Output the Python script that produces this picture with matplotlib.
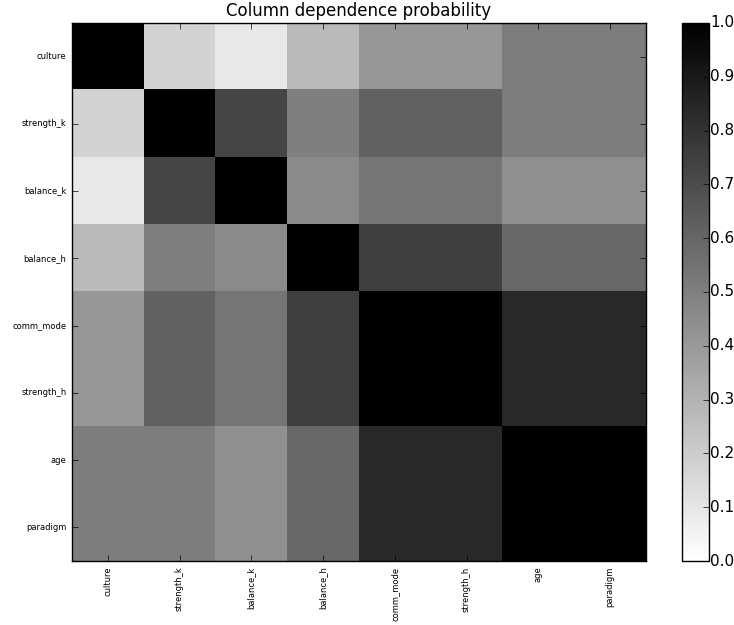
import matplotlib
matplotlib.use("Agg")
import matplotlib.pyplot as plt
import numpy as np

plt.style.use('classic')

labels = ['culture', 'strength_k', 'balance_k', 'balance_h',
          'comm_mode', 'strength_h', 'age', 'paradigm']

# dependence probabilities
row_culture = [1.00, 0.17, 0.09, 0.27, 0.41, 0.41, 0.51, 0.51]
row_strength_k = [0.17, 1.00, 0.73, 0.50, 0.62, 0.62, 0.51, 0.51]
row_balance_k = [0.09, 0.73, 1.00, 0.46, 0.54, 0.54, 0.44, 0.44]
row_balance_h = [0.27, 0.50, 0.46, 1.00, 0.75, 0.75, 0.59, 0.59]
row_comm_mode = [0.41, 0.62, 0.54, 0.75, 1.00, 1.00, 0.84, 0.84]
row_strength_h = [0.41, 0.62, 0.54, 0.75, 1.00, 1.00, 0.84, 0.84]
row_age = [0.51, 0.51, 0.44, 0.59, 0.84, 0.84, 1.00, 1.00]
row_paradigm = [0.51, 0.51, 0.44, 0.59, 0.84, 0.84, 1.00, 1.00]

z = np.array([row_culture, row_strength_k, row_balance_k, row_balance_h,
              row_comm_mode, row_strength_h, row_age, row_paradigm])

fig = plt.figure(figsize=(7.34, 6.25), dpi=100, facecolor='white')
ax = fig.add_axes([0.098, 0.1024, 0.782, 0.861])
cax = fig.add_axes([0.929, 0.1024, 0.0368, 0.861])

im = ax.imshow(z, cmap='gray_r', vmin=0, vmax=1, interpolation='nearest',
               aspect='auto')
ax.set_xticks(range(len(labels)))
ax.set_yticks(range(len(labels)))
ax.set_xticklabels(labels, rotation=90, fontsize=6)
ax.set_yticklabels(labels, fontsize=6)
ax.set_title('Column dependence probability', fontsize=12)

cb = fig.colorbar(im, cax=cax)
cb.set_ticks(np.arange(0, 1.01, 0.1))
cb.ax.tick_params(labelsize=11, pad=1)

fig.savefig('out.png', dpi=100, facecolor='white')
